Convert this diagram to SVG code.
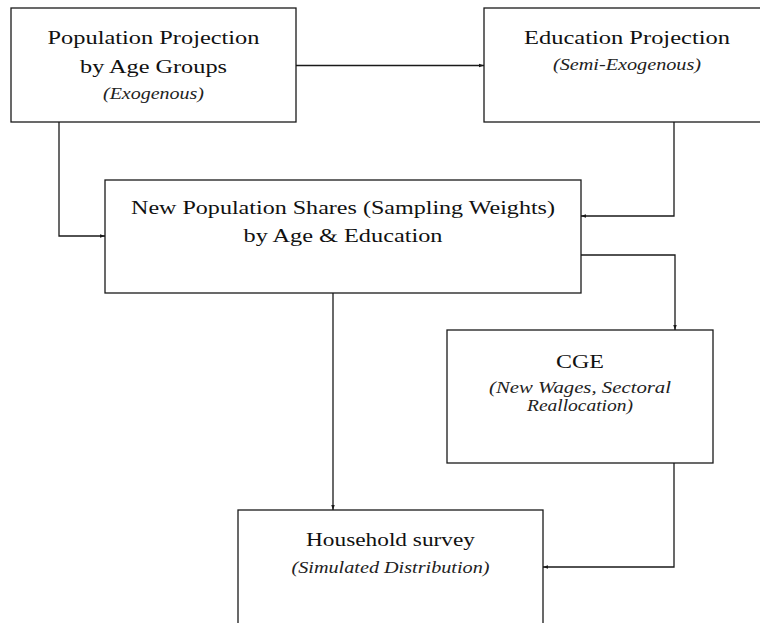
<svg xmlns="http://www.w3.org/2000/svg" width="760" height="623" viewBox="0 0 760 623">
<style>
.box{fill:#fff;stroke:#1a1a1a;stroke-width:1.3}
.t{font-family:"Liberation Serif","Times New Roman",serif;font-size:19px;fill:#111;text-anchor:middle}
.i{font-family:"Liberation Serif","Times New Roman",serif;font-size:16px;font-style:italic;fill:#222;text-anchor:middle}
.c{fill:none;stroke:#1a1a1a;stroke-width:1.3}
</style>
<defs>
<marker id="ah" viewBox="0 0 10 10" refX="10" refY="5" markerWidth="5" markerHeight="5" orient="auto" markerUnits="userSpaceOnUse">
<path d="M0,1.5 L10,5 L0,8.5 z" fill="#1a1a1a"/>
</marker>
</defs>
<rect width="760" height="623" fill="#fff"/>
<g id="connectors">
<path class="c" d="M296,65.5 H484" marker-end="url(#ah)"/>
<path class="c" d="M59,122 V236 H105" marker-end="url(#ah)"/>
<path class="c" d="M674,122 V216 H581" marker-end="url(#ah)"/>
<path class="c" d="M581,255 H675 V330" marker-end="url(#ah)"/>
<path class="c" d="M333,293 V510" marker-end="url(#ah)"/>
<path class="c" d="M674,463 V567 H543" marker-end="url(#ah)"/>
</g>
<g id="pop-projection">
<rect class="box" x="11" y="8" width="285" height="114"/>
<text class="t" x="153.5" y="44" textLength="212" lengthAdjust="spacingAndGlyphs">Population Projection</text>
<text class="t" x="153.5" y="73" textLength="147" lengthAdjust="spacingAndGlyphs">by Age Groups</text>
<text class="i" x="153.5" y="99" textLength="101" lengthAdjust="spacingAndGlyphs">(Exogenous)</text>
</g>
<g id="edu-projection">
<rect class="box" x="484" y="8" width="290" height="114"/>
<text class="t" x="627" y="44" textLength="206" lengthAdjust="spacingAndGlyphs">Education Projection</text>
<text class="i" x="627" y="70" textLength="148" lengthAdjust="spacingAndGlyphs">(Semi-Exogenous)</text>
</g>
<g id="new-pop-shares">
<rect class="box" x="105" y="180" width="476" height="113"/>
<text class="t" x="343" y="214" textLength="424" lengthAdjust="spacingAndGlyphs">New Population Shares (Sampling Weights)</text>
<text class="t" x="343" y="242" textLength="199" lengthAdjust="spacingAndGlyphs">by Age &amp; Education</text>
</g>
<g id="cge">
<rect class="box" x="447" y="330" width="266" height="133"/>
<text class="t" x="580" y="368" textLength="48" lengthAdjust="spacingAndGlyphs">CGE</text>
<text class="i" x="580" y="393" textLength="182" lengthAdjust="spacingAndGlyphs">(New Wages, Sectoral</text>
<text class="i" x="580" y="411" textLength="106" lengthAdjust="spacingAndGlyphs">Reallocation)</text>
</g>
<g id="household">
<rect class="box" x="238" y="510" width="305" height="130"/>
<text class="t" x="390.5" y="546" textLength="169" lengthAdjust="spacingAndGlyphs">Household survey</text>
<text class="i" x="390.5" y="573" textLength="198" lengthAdjust="spacingAndGlyphs">(Simulated Distribution)</text>
</g>
</svg>
